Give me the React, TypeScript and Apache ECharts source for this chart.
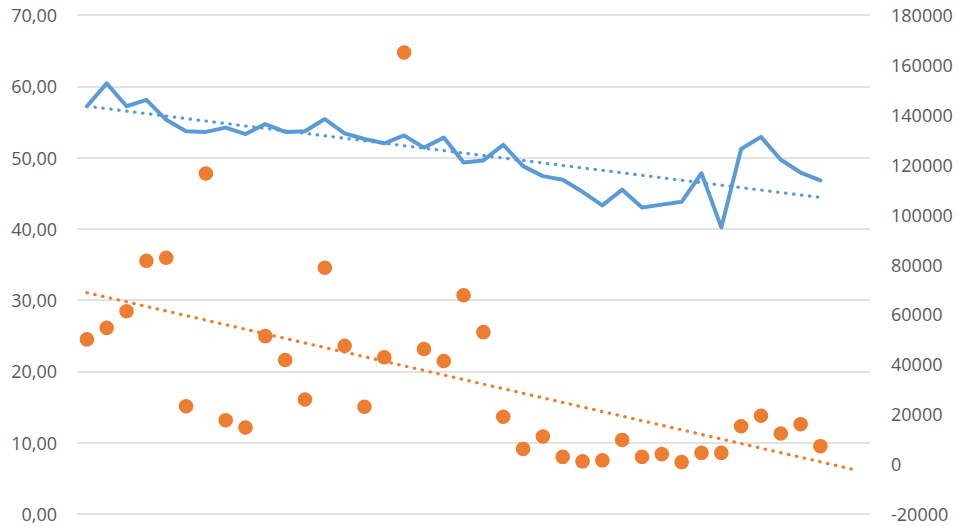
import React, { useEffect, useRef } from "react";
import * as echarts from "echarts";

const blueValues = [57.2, 60.4, 57.2, 58.1, 55.3, 53.7, 53.6, 54.2, 53.3, 54.7, 53.6, 53.7, 55.4, 53.4, 52.6, 52.0, 53.1, 51.4, 52.8, 49.3, 49.6, 51.8, 48.8, 47.4, 46.9, 45.2, 43.3, 45.5, 43.0, 43.4, 43.8, 47.8, 40.2, 51.2, 52.9, 49.7, 47.9, 46.8];
const orangeValues = [50000, 54600, 61300, 81500, 82700, 23200, 116500, 17600, 14700, 51300, 41700, 25900, 78700, 47400, 23000, 42800, 165000, 46100, 41300, 67700, 52900, 19000, 6100, 11100, 2900, 1100, 1500, 9700, 2900, 4000, 800, 4500, 4500, 15200, 19400, 12300, 16000, 7200];
// trend line end points [x index, value]
const blueTrend = [[0, 57.2], [37, 44.4]];
const orangeTrend = [[0, 68700], [38.64, -2100]];
const categoryCount = 40;
const leftTicks = { min: 0, max: 70, interval: 10 };
const rightTicks = { min: -20000, max: 180000, interval: 20000 };

export default function App() {
  const ref = useRef<HTMLDivElement>(null);
  useEffect(() => {
    if (!ref.current) return;
    const chart = echarts.init(ref.current, null, { renderer: "svg" });
    const font = "'Open Sans', sans-serif";
    chart.setOption({
      animation: false,
      backgroundColor: "#ffffff",
      grid: { left: 77, right: 92, top: 15, bottom: 12, containLabel: false },
      xAxis: {
        type: "value",
        min: -0.5,
        max: categoryCount - 0.5,
        show: false,
      },
      yAxis: [
        {
          type: "value",
          min: leftTicks.min,
          max: leftTicks.max,
          interval: leftTicks.interval,
          axisLine: { show: false },
          axisTick: { show: false },
          axisLabel: {
            margin: 20,
            color: "#595959",
            fontSize: 18,
            fontFamily: font,
            formatter: (v: number) => v.toFixed(2).replace(".", ","),
          },
          splitLine: { lineStyle: { color: "#d9d9d9", width: 1.5 } },
        },
        {
          type: "value",
          min: rightTicks.min,
          max: rightTicks.max,
          interval: rightTicks.interval,
          position: "right",
          axisLine: { show: false },
          axisTick: { show: false },
          axisLabel: {
            margin: 21,
            color: "#595959",
            fontSize: 18,
            fontFamily: font,
            formatter: (v: number) => String(v),
          },
          splitLine: { show: false },
        },
      ],
      series: [
        {
          type: "line",
          yAxisIndex: 1,
          data: orangeTrend,
          symbol: "none",
          lineStyle: { color: "#ED7D31", width: 3.2, type: [0.5, 7.5], cap: "round" },
          z: 2,
        },
        {
          type: "scatter",
          yAxisIndex: 1,
          data: orangeValues.map((v, i) => [i, v]),
          symbol: "circle",
          symbolSize: 14.5,
          itemStyle: { color: "#ED7D31", opacity: 1 },
          z: 3,
        },
        {
          type: "line",
          yAxisIndex: 0,
          data: blueValues.map((v, i) => [i, v]),
          symbol: "none",
          lineStyle: { color: "#5B9BD5", width: 4, cap: "round", join: "round" },
          z: 4,
        },
        {
          type: "line",
          yAxisIndex: 0,
          data: blueTrend,
          symbol: "none",
          lineStyle: { color: "#5B9BD5", width: 3.2, type: [0.5, 7.5], cap: "round" },
          z: 5,
        },
      ],
    });
    return () => chart.dispose();
  }, []);
  return <div ref={ref} style={{ width: 962, height: 526, position: "absolute", left: 0, top: 0 }} />;
}
